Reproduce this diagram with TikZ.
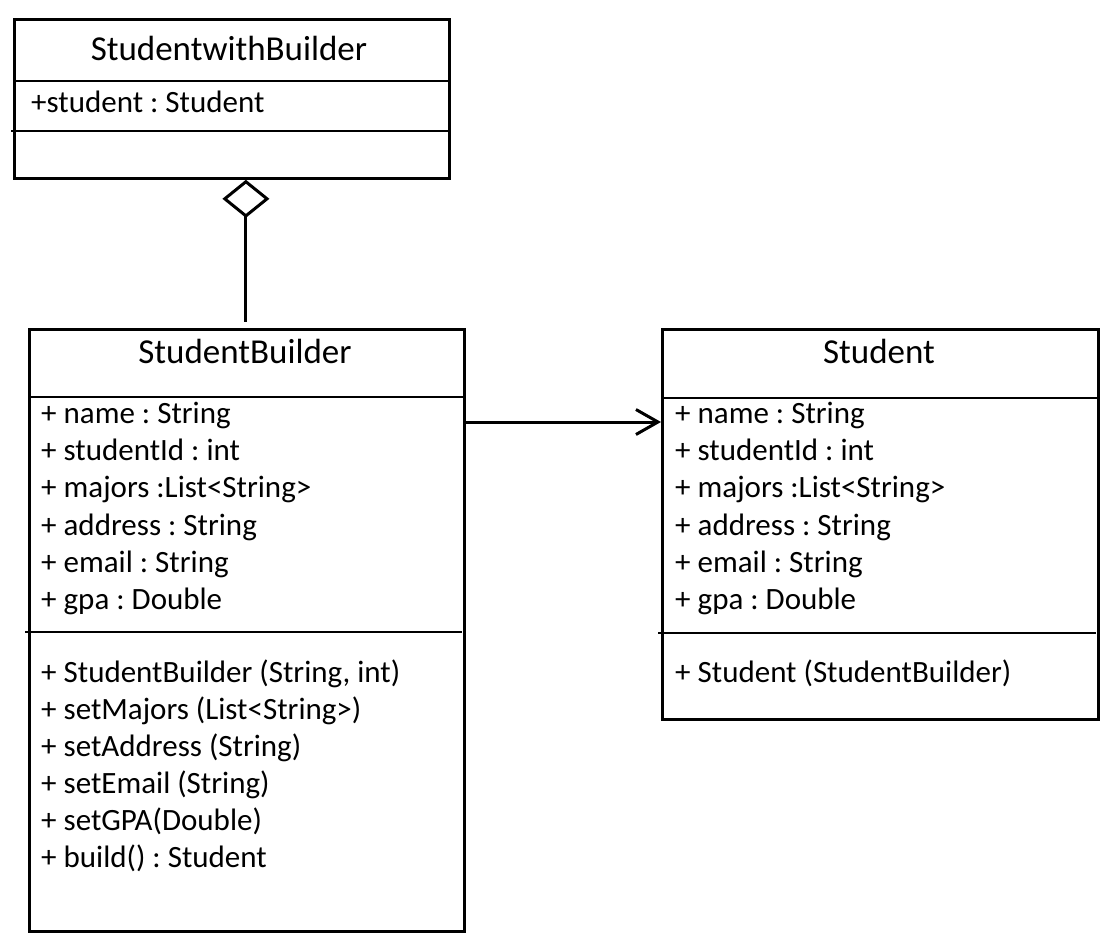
\documentclass[tikz,border=0pt]{standalone}
\usepackage{fontspec}
\setmainfont{Carlito}
\usetikzlibrary{arrows.meta}
\frenchspacing

\tikzset{
  umlbox/.style={rectangle, draw, line width=2.8pt, anchor=north west, inner sep=0pt},
  sepline/.style={line width=1.6pt},
  classname/.style={anchor=base, inner sep=0pt, font=\fontsize{35}{42}\selectfont},
  member/.style={anchor=base west, inner sep=0pt, font=\fontsize{31}{37}\selectfont},
  link/.style={line width=3pt}
}

\begin{document}
\begin{tikzpicture}[x=1pt,y=-1pt]
        \useasboundingbox (0,0) rectangle (1114,950);

        \node[umlbox, minimum width=435pt, minimum height=159pt] (wb) at (13,18) {};
        \node[umlbox, minimum width=435pt, minimum height=602pt] (builder) at (28,328) {};
        \node[umlbox, minimum width=436pt, minimum height=390pt] (student) at (661,328) {};

        % Compartments
        \draw[sepline] ([yshift=-63pt]wb.north west) -- ([yshift=-63pt]wb.north east);
        \draw[sepline] ([xshift=-2pt,yshift=-113pt]wb.north west) -- ([xshift=-2pt,yshift=-113pt]wb.north east);
        \draw[sepline] ([yshift=-69pt]builder.north west) -- ([yshift=-69pt]builder.north east);
        \draw[sepline] ([xshift=-3pt,yshift=-304pt]builder.north west) -- ([xshift=-4pt,yshift=-304pt]builder.north east);
        \draw[sepline] ([yshift=-70pt]student.north west) -- ([yshift=-70pt]student.north east);
        \draw[sepline] ([xshift=-3pt,yshift=-305pt]student.north west) -- ([xshift=-4pt,yshift=-305pt]student.north east);

        % Class StudentwithBuilder
        \node[classname] (wbname) at (229,60) {StudentwithBuilder};
        \node[member] (wbattr) at (31,112) {+student : Student};

        % Class StudentBuilder
        \node[classname] (bname) at (245,363) {StudentBuilder};
        \node[member] (battr1) at (41,423) {+ name : String};
        \node[member] (battr2) at (41,460) {+ studentId : int};
        \node[member] (battr3) at (41,497.5) {+ majors :List<String>};
        \node[member] (battr4) at (41,535) {+ address : String};
        \node[member] (battr5) at (41,572) {+ email : String};
        \node[member] (battr6) at (41,609.5) {+ gpa : Double};
        \node[member] (bop1) at (41,682) {+ StudentBuilder (String, int)};
        \node[member] (bop2) at (41,719.5) {+ setMajors (List<String>)};
        \node[member] (bop3) at (41,756.5) {+ setAddress (String)};
        \node[member] (bop4) at (41,793.5) {+ setEmail (String)};
        \node[member] (bop5) at (41,830.5) {+ setGPA(Double)};
        \node[member] (bop6) at (41,867) {+ build() : Student};

        % Class Student
        \node[classname] (sname) at (879,363) {Student};
        \node[member] (sattr1) at (675,423) {+ name : String};
        \node[member] (sattr2) at (675,460) {+ studentId : int};
        \node[member] (sattr3) at (675,497.5) {+ majors :List<String>};
        \node[member] (sattr4) at (675,535) {+ address : String};
        \node[member] (sattr5) at (675,572) {+ email : String};
        \node[member] (sattr6) at (675,609.5) {+ gpa : Double};
        \node[member] (sop1) at (675,682) {+ Student (StudentBuilder)};

        % Relations
        \draw[link, {Diamond[open, length=38pt, width=47pt]}-] ([xshift=-1pt]builder.north |- wb.south) -- ([xshift=-1pt,yshift=6pt]builder.north);
        \draw[link, -{Straight Barb[length=22pt, width=25pt]}] ([yshift=-94pt]builder.north east) -- ([yshift=-94pt]student.north west);
    \end{tikzpicture}
\end{document}
